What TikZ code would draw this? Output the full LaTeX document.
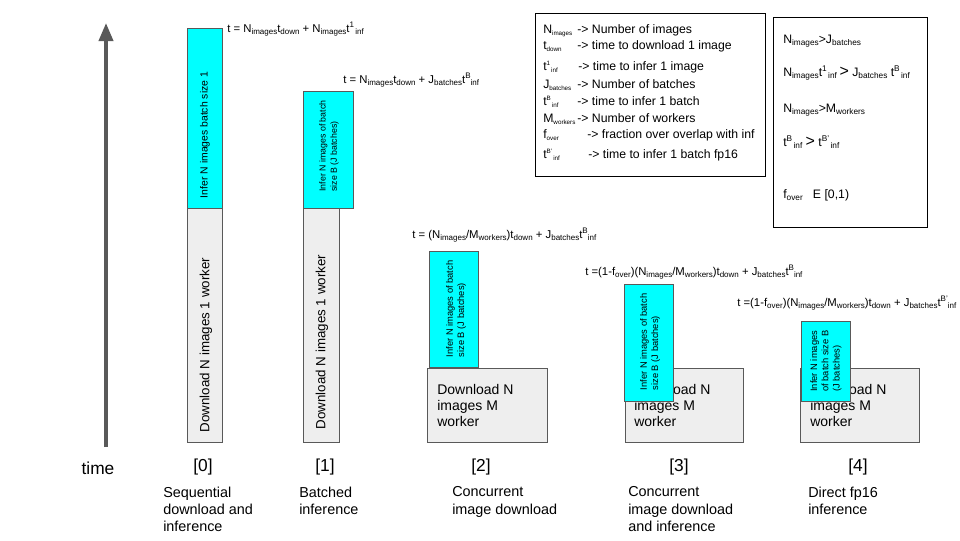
\documentclass[tikz,border=0pt]{standalone}
\usepackage{fontspec}
\setmainfont{Liberation Sans}
\usepackage{tikz}
\usetikzlibrary{arrows.meta}

\definecolor{boxgray}{HTML}{EEEEEE}
\definecolor{edgegray}{HTML}{595959}
\definecolor{infcyan}{HTML}{00FFFF}

\newcommand{\subsize}{\fontsize{6}{7}\selectfont}
\newcommand{\tsub}[1]{\raisebox{-1.6pt}{\subsize #1}}
\newcommand{\tsup}[1]{\raisebox{3.4pt}{\subsize #1}}
\def\px{0.75pt}

\tikzset{
	inferbox/.style={draw=edgegray, fill=infcyan, line width=0.75pt, inner sep=0pt, anchor=north west},
	dlbox/.style={draw=edgegray, fill=boxgray, line width=0.75pt, inner sep=0pt, anchor=north west},
	formula/.style={anchor=base west, inner sep=0pt, font=\fontsize{8.5}{10}\selectfont},
	legendtext/.style={anchor=base west, inner sep=0pt, font=\fontsize{9.2}{11}\selectfont\def\subsize{\fontsize{4.7}{5.5}\selectfont}},
	condtext/.style={anchor=base west, inner sep=0pt, font=\fontsize{9.2}{11}\selectfont\def\subsize{\fontsize{6.2}{7}\selectfont}},
	caption/.style={anchor=north west, inner sep=0pt, align=left, font=\fontsize{10.8}{13}\selectfont},
	tag/.style={anchor=base, inner sep=0pt, font=\fontsize{13}{15}\selectfont},
	dltext/.style={anchor=north west, inner sep=0pt, align=left, font=\fontsize{10.5}{11.8}\selectfont},
	inftext/.style={rotate=90, inner sep=0pt, align=left, font=\fontsize{7}{8.4}\selectfont}
}

\begin{document}
\begin{tikzpicture}[x=0.75pt, y=-0.75pt]
	\useasboundingbox (0,0) rectangle (960,540);
	
	% time axis
	\coordinate (tbot) at (106,447);
	\coordinate (ttop) at (106,23);
	\draw[-{Triangle[length=13.5pt,width=10.5pt]}, edgegray, line width=2.8pt] (tbot) -- (ttop);
	\node(time) [tag] at (98,474) {time};
	
	% [0] sequential
	\node(dl0)  [dlbox, minimum width=35*\px, minimum height=234*\px] at (187,208) {};
	\node(inf0) [inferbox, minimum width=35*\px, minimum height=180*\px] at (187,28) {};
	\node(inf0t) [rotate=90, inner sep=0pt, font=\fontsize{7.8}{9}\selectfont] at (205,135) {Infer N images batch size 1};
	\node(dl0t) [rotate=90, inner sep=0pt, font=\fontsize{10}{12}\selectfont] at (206,345) {Download N images 1 worker};
	\node(f0) [formula] at (227,32) {t = N\tsub{images}t\tsub{down} + N\tsub{images}t\tsup{1}\tsub{\,inf}};
	\node(tag0) [tag] at (203,471) {[0]};
	\node(cap0) [caption] at (163,486.5) {Sequential\\download and\\inference};
	
	% [1] batched
	\node(dl1)  [dlbox, minimum width=36*\px, minimum height=234*\px] at (303,208) {};
	\node(inf1) [inferbox, minimum width=50*\px, minimum height=117*\px] at (303,91) {};
	\node(inf1t) [inftext, font=\fontsize{6.6}{8.4}\selectfont] at (329,146) {Infer N images of batch\\size B (J batches)};
	\node(dl1t) [rotate=90, inner sep=0pt, font=\fontsize{10}{12}\selectfont] at (322,342) {Download N images 1 worker};
	\node(f1) [formula] at (343,83) {t = N\tsub{images}t\tsub{down} + J\tsub{batches}t\tsup{B}\tsub{inf}};
	\node(tag1) [tag] at (325,471) {[1]};
	\node(cap1) [caption] at (299,486.5) {Batched\\inference};
	
	% [2] concurrent download
	\node(dl2)  [dlbox, minimum width=120*\px, minimum height=74*\px] at (427,368) {};
	\node(dl2t) [dltext] at (437,384.5) {Download N\\images M\\worker};
	\node(inf2) [inferbox, minimum width=49*\px, minimum height=116*\px] at (429,251) {};
	\node(inf2t) [inftext] at (456,309) {Infer N images of batch\\size B (J batches)};
	\node(f2) [formula] at (412,238) {t = (N\tsub{images}/M\tsub{workers})t\tsub{down} + J\tsub{batches}t\tsup{B}\tsub{inf}};
	\node(tag2) [tag] at (481,471) {[2]};
	\node(cap2) [caption] at (452,486.5) {Concurrent\\image download};
	
	% [3] concurrent download and inference
	\node(dl3)  [dlbox, minimum width=118*\px, minimum height=74*\px] at (625,368) {};
	\node(dl3t) [dltext] at (634,384.5) {Download N\\images M\\worker};
	\node(inf3) [inferbox, minimum width=49*\px, minimum height=117*\px] at (624,284) {};
	\node(inf3t) [inftext] at (650,342) {Infer N images of batch\\size B (J batches)};
	\node(f3) [formula] at (585,275) {t =(1-f\tsub{over})(N\tsub{images}/M\tsub{workers})t\tsub{down} + J\tsub{batches}t\tsup{B}\tsub{inf}};
	\node(tag3) [tag] at (679,471) {[3]};
	\node(cap3) [caption] at (628,486.5) {Concurrent\\image download\\and inference};
	
	% [4] direct fp16
	\node(dl4)  [dlbox, minimum width=119*\px, minimum height=74*\px] at (800,368) {};
	\node(dl4t) [dltext] at (810,384.5) {Download N\\images M\\worker};
	\node(inf4) [inferbox, minimum width=49*\px, minimum height=80*\px] at (801,321) {};
	\node(inf4t) [inftext] at (826,361) {Infer N images\\of batch size B\\(J batches)};
	\node(f4) [formula] at (737,306) {t =(1-f\tsub{over})(N\tsub{images}/M\tsub{workers})t\tsub{down} + J\tsub{batches}t\tsup{B'}\tsub{inf}};
	\node(tag4) [tag] at (858,471) {[4]};
	\node(cap4) [caption] at (808,486.5) {Direct fp16\\inference};
	
	% legend of symbols
	\node(legend) [draw=black, line width=0.75pt, inner sep=0pt, anchor=north west, minimum width=230*\px, minimum height=163*\px] at (535,13) {};
	\node(sym1) [legendtext] at (543,33) {N\tsub{images}};
	\node(sym2) [legendtext] at (543,49) {t\tsub{down}};
	\node(sym3) [legendtext] at (543,70) {t\tsup{1}\tsub{\,inf}};
	\node(sym4) [legendtext] at (543,88) {J\tsub{batches}};
	\node(sym5) [legendtext] at (543,105) {t\tsup{B}\tsub{\,inf}};
	\node(sym6) [legendtext] at (543,122) {M\tsub{workers}};
	\node(sym7) [legendtext] at (543,138) {f\tsub{over}};
	\node(sym8) [legendtext] at (543,158) {t\tsup{B'}\tsub{\,inf}};
	\node(desc1) [legendtext] at (577,33) {-> Number of images};
	\node(desc2) [legendtext] at (577,49) {-> time to download 1 image};
	\node(desc3) [legendtext] at (578,70) {-> time to infer 1 image};
	\node(desc4) [legendtext] at (577,88) {-> Number of batches};
	\node(desc5) [legendtext] at (577,105) {-> time to infer 1 batch};
	\node(desc6) [legendtext] at (577,122) {-> Number of workers};
	\node(desc7) [legendtext] at (587,138) {-> fraction over overlap with inf};
	\node(desc8) [legendtext] at (588,158) {-> time to infer 1 batch fp16};
	
	% assumptions
	\node(assume) [draw=black, line width=0.75pt, inner sep=0pt, anchor=north west, minimum width=154*\px, minimum height=210*\px] at (773,17) {};
	\node(cond1) [condtext] at (783,43) {N\tsub{images}>J\tsub{batches}};
	\node(cond2) [condtext] at (783,76) {N\tsub{images}t\tsup{1}\tsub{\,inf}{\fontsize{12}{13}\selectfont\,>} J\tsub{batches} t\tsup{B}\tsub{\,inf}};
	\node(cond3) [condtext] at (783,112) {N\tsub{images}>M\tsub{workers}};
	\node(cond4) [condtext] at (783,146) {t\tsup{B}\tsub{\,inf} {\fontsize{12}{13}\selectfont >} t\tsup{B'}\tsub{\,inf}};
	\node(cond5) [condtext] at (783,198) {f\tsub{over}\ \ \ E [0,1)};
\end{tikzpicture}
\end{document}
